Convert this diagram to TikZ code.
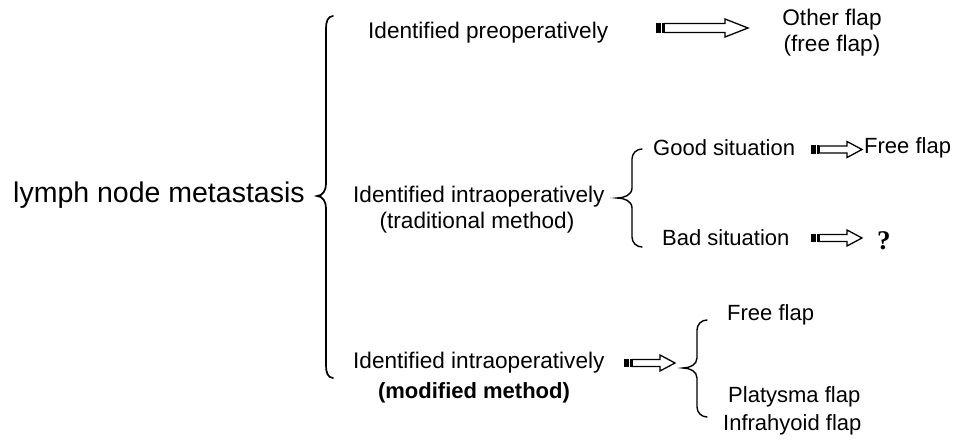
\documentclass[tikz,border=0pt]{standalone}
\usepackage{fontspec}
\setmainfont{Liberation Sans}
\newfontfamily\qfont{Liberation Serif}
\tikzset{
  lbl/.style={inner sep=0pt, font=\fontsize{22.6}{25}\selectfont},
  rlbl/.style={inner sep=0pt, font=\fontsize{22}{25}\selectfont},
  bigbrace/.style={line width=1.7pt, line cap=round},
  smallbrace/.style={line width=1.4pt, line cap=round},
  arrowline/.style={line width=1.3pt, line join=miter, fill=white},
}
% striped block arrow: tail x, tip x, y, shaft half, head half, head length
\newcommand\StripeArrow[6]{%
  \fill (#1-0.6,#3-#4-0.6) rectangle (#1+4,#3+#4+0.6);
  \fill (#1+5,#3-#4-0.6) rectangle (#1+6.5,#3+#4+0.6);
  \draw[arrowline] (#1+7.2,#3-#4) -- (#2-#6,#3-#4) -- (#2-#6,#3-#5) -- (#2,#3)
     -- (#2-#6,#3+#5) -- (#2-#6,#3+#4) -- (#1+7.2,#3+#4) -- cycle;}
\begin{document}
\begin{tikzpicture}[x=1pt,y=-1pt]
\useasboundingbox (0,0) rectangle (958,441);
\fill[white] (0,0) rectangle (958,441);

% texts
\node[inner sep=0pt, anchor=west, font=\fontsize{28.5}{32}\selectfont] (lnm) at (13,195) {lymph node metastasis};
\node[lbl, anchor=west] (pre) at (368,33) {Identified preoperatively};
\node[lbl] (other) at (832,20) {Other flap};
\node[lbl] (otherb) at (832,46) {(free flap)};
\node[lbl, anchor=west] (intra) at (353,197) {Identified intraoperatively};
\node[lbl] (trad) at (477,223) {(traditional method)};
\node[lbl, anchor=west] (intrm) at (353,363) {Identified intraoperatively};
\node[lbl, font=\fontsize{22}{25}\selectfont\bfseries] (modm) at (474,393) {(modified method)};
\node[rlbl, anchor=west] (good) at (653,148) {Good situation};
\node[rlbl, anchor=west] (bad) at (662,238) {Bad situation};
\node[rlbl, anchor=west] (free1) at (864,148) {Free flap};
\node[inner sep=0pt, anchor=west, font=\qfont\bfseries\fontsize{27}{29}\selectfont] (q) at (877,241) {?};
\node[rlbl, anchor=west] (free2) at (727,315) {Free flap};
\node[rlbl, anchor=west] (plat) at (728,397) {Platysma flap};
\node[rlbl, anchor=west] (infra) at (723,425) {Infrahyoid flap};

% braces
\draw[bigbrace] (333,16) to[out=180,in=90] (326,28) -- (326,184)
   to[out=-90,in=0] (317,196) to[out=0,in=90] (326,208) -- (326,366)
   to[out=-90,in=180] (333,378);
\draw[smallbrace] (642,149) to[out=180,in=90] (632,159) -- (632,188)
   to[out=-90,in=0] (617,198) to[out=0,in=90] (632,208) -- (632,237)
   to[out=-90,in=180] (642,247);
\draw[smallbrace] (707,320) to[out=180,in=90] (697,330) -- (697,358)
   to[out=-90,in=0] (683,368) to[out=0,in=90] (697,378) -- (697,407)
   to[out=-90,in=180] (707,417);

% arrows
\StripeArrow{657}{748}{28}{4.5}{9}{23}
\StripeArrow{812}{862}{149.5}{3.5}{8}{15}
\StripeArrow{812}{862}{238}{3.5}{8}{15}
\StripeArrow{625}{675}{363}{3.5}{8}{15}
\end{tikzpicture}
\end{document}
